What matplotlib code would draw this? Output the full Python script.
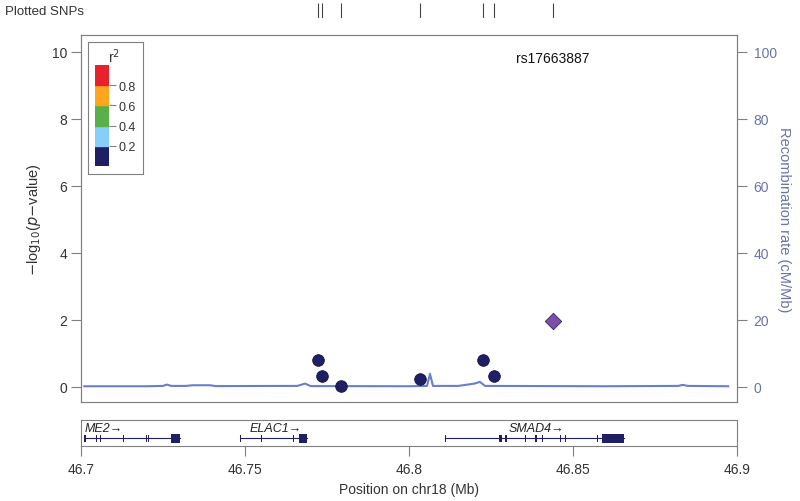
import matplotlib
matplotlib.use("Agg")
import matplotlib.pyplot as plt
from matplotlib.patches import Rectangle
import numpy as np

# SNPs (position in Mb, -log10 p)
snp_pos = [46.7722, 46.7734, 46.7792, 46.8033, 46.8227, 46.8260]
snp_logp = [0.81, 0.33, 0.03, 0.24, 0.81, 0.33]
lead_pos = 46.8438
lead_logp = 1.97
lead_name = "rs17663887"

# recombination rate (cM/Mb)
rec_pos = [46.7010, 46.7200, 46.7250, 46.7262, 46.7275, 46.7320, 46.7341, 46.7393,
           46.7410, 46.7660, 46.7683, 46.7700, 46.8000, 46.8055, 46.8064, 46.8073,
           46.8150, 46.8200, 46.8216, 46.8232, 46.8600, 46.8820, 46.8835, 46.8850, 46.8973]
rec_rate = [0.2, 0.2, 0.3, 0.7, 0.3, 0.3, 0.5, 0.5,
            0.25, 0.3, 1.0, 0.25, 0.2, 0.3, 3.9, 0.3,
            0.3, 1.0, 1.5, 0.3, 0.2, 0.3, 0.6, 0.3, 0.2]

# genes: name, start, end, exons (start, end)
genes = [
    ("ME2", 46.7009, 46.7302,
     [(46.7009, 46.7015), (46.7046, 46.7049), (46.7058, 46.7061), (46.7127, 46.7129),
      (46.7197, 46.7199), (46.7203, 46.7205), (46.7274, 46.7302)]),
    ("ELAC1", 46.7485, 46.7690,
     [(46.7484, 46.7486), (46.7548, 46.7550), (46.7645, 46.7648), (46.7666, 46.7690)]),
    ("SMAD4", 46.8110, 46.8655,
     [(46.8109, 46.8111), (46.8275, 46.8284), (46.8293, 46.8299), (46.8353, 46.8355),
      (46.8383, 46.8389), (46.8405, 46.8407), (46.8459, 46.8461), (46.8477, 46.8479),
      (46.8573, 46.8576), (46.8588, 46.8655)]),
]
gene_label_pos = [46.7010, 46.7515, 46.8305]

ld_colors = ["#1f1f66", "#87cefa", "#59b04a", "#ffa51e", "#e8222b"]
ld_bounds = [0.0, 0.2, 0.4, 0.6, 0.8, 1.0]

rec_col = "#6a7fc9"
axis_col = "#808080"
txt_col = "#333333"

plt.rcParams["font.family"] = ["Liberation Sans", "DejaVu Sans"]
plt.rcParams["font.size"] = 10

fig = plt.figure(figsize=(8, 5.02), dpi=100)

xmin, xmax = 46.7, 46.9

# main panel
ax = fig.add_axes([81/800, 1-403/502, 656/800, 367/502])
ax.set_xlim(xmin, xmax)
ax.set_ylim(-0.45, 10.5)
ax2 = ax.twinx()
ax2.set_ylim(-4.5, 105)
ax2.plot(rec_pos, rec_rate, color=rec_col, lw=1.5, zorder=1)
ax.set_zorder(ax2.get_zorder() + 1)
ax.patch.set_visible(False)

ax.scatter(snp_pos, snp_logp, s=70, color=ld_colors[0], edgecolor="#111140", lw=0.6, zorder=3)
ax.scatter([lead_pos], [lead_logp], s=70, marker="D", color="#7b4fa8", edgecolor="#3a2060",
           lw=0.6, zorder=4)
ax.text(lead_pos, 9.8, lead_name, ha="center", va="center", fontsize=10, color="#111111")

for a in (ax, ax2):
    for s in a.spines.values():
        s.set_color(axis_col)
ax.set_xticks([])
ax.set_yticks([0, 2, 4, 6, 8, 10])
ax.tick_params(axis="y", colors=axis_col, labelcolor=txt_col, length=7, pad=3, labelsize=10)
ax.set_ylabel(r"$-$log$_{10}$($p$$-$value)", color=txt_col, fontsize=10.5, labelpad=6)
ax2.set_yticks([0, 20, 40, 60, 80, 100])
ax2.tick_params(axis="y", colors=axis_col, labelcolor="#6a73a8", length=7, pad=5, labelsize=10)
ax2.set_ylabel("Recombination rate (cM/Mb)", color="#6a73a8", rotation=270, labelpad=10,
               fontsize=10.5)

# legend
lg = fig.add_axes([88/800, 1-175/502, 55/800, 132/502])
lg.set_xticks([])
lg.set_yticks([])
for s in lg.spines.values():
    s.set_color(axis_col)
lg.text(0.47, 0.895, r"r$^2$", transform=lg.transAxes, ha="center", va="center",
        fontsize=10, color=txt_col)
cb = fig.add_axes([95/800, 1-167/502, 14/800, 101/502])
for i, c in enumerate(ld_colors):
    cb.add_patch(Rectangle((0, ld_bounds[i]), 1, ld_bounds[i+1]-ld_bounds[i], color=c))
cb.set_xlim(0, 1)
cb.set_ylim(0, 1)
cb.set_xticks([])
cb.yaxis.tick_right()
cb.set_yticks([0.2, 0.4, 0.6, 0.8])
cb.set_yticklabels(["0.2", "0.4", "0.6", "0.8"])
cb.tick_params(axis="y", colors=axis_col, labelcolor=txt_col, length=5, pad=2, labelsize=9)
for s in cb.spines.values():
    s.set_visible(False)

# gene track
ga = fig.add_axes([81/800, 1-447/502, 656/800, 26/502])
ga.set_xlim(xmin, xmax)
ga.set_ylim(0, 1)
for s in ga.spines.values():
    s.set_color(axis_col)
ga.set_yticks([])
ga.set_xticks([46.7, 46.75, 46.8, 46.85, 46.9])
ga.set_xticklabels(["46.7", "46.75", "46.8", "46.85", "46.9"])
ga.tick_params(axis="x", colors=axis_col, labelcolor=txt_col, length=7.5, pad=4, labelsize=10)
ga.set_xlabel("Position on chr18 (Mb)", color=txt_col, fontsize=10, labelpad=4)
gy = 0.3
for (name, g0, g1, exons), lx in zip(genes, gene_label_pos):
    ga.plot([g0, g1], [gy, gy], color="#1f1f66", lw=0.8)
    for e0, e1 in exons:
        big = (e1 - e0) > 0.001
        h = 0.36 if big else 0.26
        w = max(e1 - e0, 0.0003)
        ga.add_patch(Rectangle((e0, gy - h/2), w, h, color="#1f1f66", lw=0))
    ga.text(lx, 0.7, name + "\u2192", style="italic", fontsize=9, ha="left", va="center",
            color="#222222")

# plotted SNP strip
sa = fig.add_axes([81/800, 1-19/502, 656/800, 15/502])
sa.set_xlim(xmin, xmax)
sa.set_ylim(0, 1)
sa.axis("off")
sa.vlines(snp_pos + [lead_pos], 0.0, 1.0, color="#444444", lw=0.8)
fig.text(5/800, 1-12/502, "Plotted SNPs", ha="left", va="center", fontsize=9.5, color=txt_col)

fig.savefig("out.png", dpi=100)
